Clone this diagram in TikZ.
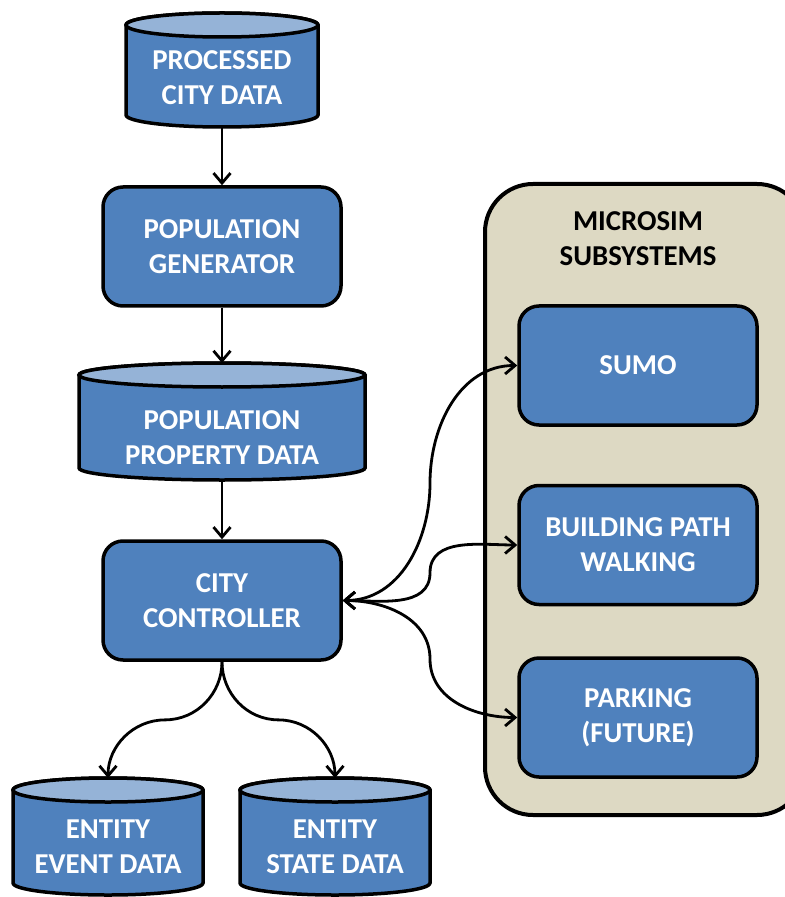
\documentclass[tikz,border=0pt]{standalone}
\usepackage{fontspec}
\setmainfont{Carlito}
\usetikzlibrary{arrows.meta,calc}
\definecolor{boxblue}{RGB}{79,129,189}
\definecolor{topblue}{RGB}{149,179,215}
\definecolor{paneltan}{RGB}{221,217,195}

% data store: name, x, top y, bottom y, half width, text y, text
\newcommand{\datastore}[7]{%
  \filldraw[dbline, fill=boxblue] (#2-#5,-#3-12) -- (#2-#5,-#4+12)
    arc[start angle=180, end angle=360, x radius=#5, y radius=12]
    -- (#2+#5,-#3-12) arc[start angle=0, end angle=180, x radius=#5, y radius=12] -- cycle;
  \filldraw[dbline, fill=topblue] (#2,-#3-12) ellipse[x radius=#5, y radius=12];
  \node[boxtext] (#1) at (#2,-#6) {#7};
  \coordinate (#1-top) at (#2,-#3);
  \coordinate (#1-bot) at (#2,-#4);
}

\begin{document}
\begin{tikzpicture}[x=0.5pt, y=0.5pt,
    boxtext/.style={text=white, align=center, font=\fontsize{14.4}{17.5}\selectfont\bfseries},
    dbline/.style={draw=black, line width=1.75pt},
    procbox/.style={boxtext, draw=black, line width=1.75pt, fill=boxblue, rounded corners=10pt,
        minimum width=119pt, minimum height=59.5pt, inner sep=0pt},
    panelbox/.style={draw=black, line width=2pt, fill=paneltan, rounded corners=24pt,
        minimum width=160pt, minimum height=315.5pt, inner sep=0pt},
    flow/.style={draw=black, line width=1.4pt, -{Straight Barb[length=5pt, width=8.5pt]}},
    twoway/.style={flow, {Straight Barb[length=5pt, width=8.5pt]}-{Straight Barb[length=5pt, width=8.5pt]}}]
    \useasboundingbox (0,0) rectangle (784,-897);
    % Microsim panel
    \node[panelbox] (panel) at (645,-499.5) {};
    \node[align=center, font=\fontsize{14.4}{17.5}\selectfont\bfseries] (title) at (638,-238.5) {MICROSIM\\SUBSYSTEMS};
    % Left column
    \datastore{pcd}{222}{13}{127}{96}{77.5}{PROCESSED\\CITY DATA}
    \node[procbox] (gen) at (222,-246.5) {POPULATION\\GENERATOR};
    \datastore{ppd}{222}{363}{480}{143}{437.5}{POPULATION\\PROPERTY DATA}
    \node[procbox] (ctrl) at (222,-600.5) {CITY\\CONTROLLER};
    \datastore{eed}{108}{778}{895}{95}{847}{ENTITY\\EVENT DATA}
    \datastore{esd}{335}{778}{895}{95}{847}{ENTITY\\STATE DATA}
    % Subsystems
    \node[procbox] (sumo) at (638,-365.5) {SUMO};
    \node[procbox] (walk) at (638,-545) {BUILDING PATH\\WALKING};
    \node[procbox] (park) at (638,-717.5) {PARKING\\(FUTURE)};
    % Main flow
    \draw[flow] (pcd-bot) -- (gen.north);
    \draw[flow] (gen.south) -- (ppd-top);
    \draw[flow] (ppd-bot) -- (ctrl.north);
    % Outputs
    \draw[flow] (ctrl.south) to[out=-90, in=0] ($(ctrl.south)!.5!(eed-top)$) to[out=180, in=90] (eed-top);
    \draw[flow] (ctrl.south) to[out=-90, in=180] ($(ctrl.south)!.5!(esd-top)$) to[out=0, in=90] (esd-top);
    % Controller <-> subsystems
    \draw[twoway] (ctrl.east) to[out=0, in=-90] ($(ctrl.east)!.5!(sumo.west)$) to[out=90, in=180] (sumo.west);
    \draw[twoway] (ctrl.east) to[out=0, in=-90] ($(ctrl.east)!.5!(walk.west)$) to[out=90, in=180] (walk.west);
    \draw[twoway] (ctrl.east) to[out=0, in=90] ($(ctrl.east)!.5!(park.west)$) to[out=-90, in=180] (park.west);
\end{tikzpicture}
\end{document}
